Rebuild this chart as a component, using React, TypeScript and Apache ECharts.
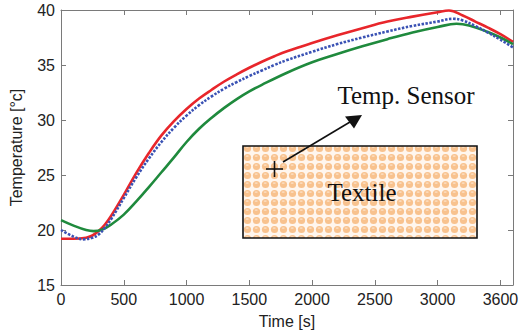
import React, { useEffect, useRef } from "react";
import * as echarts from "echarts";

const xTicks = [0, 500, 1000, 1500, 2000, 2500, 3000, 3500];
const xTickLabels = ["0", "500", "1000", "1500", "2000", "2500", "3000", "3600"];
const yTickLabels = [15, 20, 25, 30, 35, 40];

const redTime = [0, 100, 200, 250, 300, 350, 400, 500, 600, 700, 800, 900, 1000, 1100, 1200, 1300, 1400, 1500, 1600, 1700, 1800, 2000, 2200, 2400, 2600, 2800, 3000, 3090, 3200, 3300, 3400, 3500, 3600];
const redTemp = [19.2, 19.2, 19.3, 19.5, 19.9, 20.5, 21.3, 23.2, 25.2, 27.0, 28.6, 29.9, 31.0, 31.95, 32.75, 33.5, 34.15, 34.75, 35.3, 35.8, 36.25, 37.0, 37.7, 38.35, 38.95, 39.4, 39.8, 39.95, 39.5, 38.95, 38.4, 37.8, 37.1];

const blueTime = [0, 100, 175, 250, 300, 350, 400, 500, 600, 700, 800, 900, 1000, 1100, 1200, 1300, 1400, 1500, 1600, 1700, 1800, 2000, 2200, 2400, 2600, 2800, 3000, 3120, 3200, 3300, 3400, 3500, 3600];
const blueTemp = [20.0, 19.4, 19.15, 19.3, 19.6, 20.2, 21.0, 22.9, 24.8, 26.5, 28.0, 29.3, 30.4, 31.35, 32.15, 32.85, 33.45, 34.0, 34.5, 35.0, 35.45, 36.2, 36.9, 37.5, 38.05, 38.55, 38.95, 39.2, 39.05, 38.55, 37.95, 37.3, 36.6];

const greenTime = [0, 100, 200, 260, 330, 400, 500, 600, 700, 800, 900, 1000, 1100, 1200, 1300, 1400, 1500, 1600, 1800, 2000, 2200, 2400, 2600, 2800, 3000, 3150, 3250, 3400, 3500, 3600];
const greenTemp = [20.9, 20.4, 20.0, 19.9, 20.05, 20.5, 21.4, 22.6, 23.9, 25.25, 26.6, 28.0, 29.2, 30.2, 31.1, 31.9, 32.6, 33.2, 34.3, 35.25, 36.0, 36.7, 37.35, 37.95, 38.45, 38.75, 38.6, 38.0, 37.5, 36.9];

const toPairs = (t: number[], v: number[]) => t.map((x, i) => [x, v[i]]);

const patternSvg =
  '<svg xmlns="http://www.w3.org/2000/svg" width="9" height="9">' +
  '<rect width="9" height="9" fill="#fff6ee"/>' +
  '<circle cx="4.5" cy="4.5" r="3.6" fill="#f8c28e"/>' +
  '<ellipse cx="4.2" cy="3.1" rx="1.6" ry="0.9" fill="#fcdcbe"/>' +
  "</svg>";
const patternUrl = "data:image/svg+xml;charset=utf-8," + encodeURIComponent(patternSvg);

export default function App() {
  const ref = useRef<HTMLDivElement>(null);
  useEffect(() => {
    if (!ref.current) return;
    const chart = echarts.init(ref.current, undefined, { renderer: "svg" });
    const axisColor = "#7a7a7a";
    const labelFont = { fontFamily: "Liberation Sans, Arial, sans-serif", fontSize: 16, color: "#222" };
    const serif = "Liberation Serif, Times New Roman, serif";
    chart.setOption({
      animation: false,
      backgroundColor: "#ffffff",
      grid: { left: 58, right: 14, top: 10, bottom: 51, containLabel: false },
      xAxis: [
        {
          type: "value",
          min: 0,
          max: 3600,
          interval: 500,
          name: "Time [s]",
          nameLocation: "middle",
          nameGap: 28,
          nameTextStyle: { ...labelFont },
          axisLine: { show: true, lineStyle: { color: axisColor, width: 1 } },
          axisTick: { show: true, inside: true, length: 5, lineStyle: { color: axisColor } },
          axisLabel: {
            ...labelFont,
            margin: 6,
            formatter: (v: number) => {
              const i = xTicks.indexOf(v);
              return i >= 0 ? xTickLabels[i] : "";
            },
          },
          splitLine: { show: false },
        },
        {
          type: "value",
          position: "top",
          min: 0,
          max: 3600,
          interval: 500,
          axisLine: { show: true, onZero: false, lineStyle: { color: axisColor, width: 1 } },
          axisTick: { show: true, inside: true, length: 5, lineStyle: { color: axisColor } },
          axisLabel: { show: false },
          splitLine: { show: false },
        },
      ],
      yAxis: [
        {
          type: "value",
          min: 15,
          max: 40,
          interval: 5,
          name: "Temperature [°c]",
          nameLocation: "middle",
          nameGap: 31,
          nameTextStyle: { ...labelFont, padding: [0, 0, 6, 0] },
          axisLine: { show: true, lineStyle: { color: axisColor, width: 1 } },
          axisTick: { show: true, inside: true, length: 5, lineStyle: { color: axisColor } },
          axisLabel: {
            ...labelFont,
            margin: 6,
            formatter: (v: number) => (yTickLabels.indexOf(v) >= 0 ? String(v) : ""),
          },
          splitLine: { show: false },
        },
        {
          type: "value",
          position: "right",
          min: 15,
          max: 40,
          interval: 5,
          axisLine: { show: true, onZero: false, lineStyle: { color: axisColor, width: 1 } },
          axisTick: { show: true, inside: true, length: 5, lineStyle: { color: axisColor } },
          axisLabel: { show: false },
          splitLine: { show: false },
        },
      ],
      series: [
        {
          type: "line",
          name: "green",
          data: toPairs(greenTime, greenTemp),
          smooth: 0.4,
          showSymbol: false,
          symbol: "none",
          lineStyle: { color: "#1f8a3d", width: 2.6 },
          z: 3,
        },
        {
          type: "line",
          name: "blue",
          data: toPairs(blueTime, blueTemp),
          smooth: 0.4,
          showSymbol: false,
          symbol: "none",
          lineStyle: { color: "#3a52b4", width: 2.6, type: [2.5, 1.5] },
          z: 4,
        },
        {
          type: "line",
          name: "red",
          data: toPairs(redTime, redTemp),
          smooth: 0.4,
          showSymbol: false,
          symbol: "none",
          lineStyle: { color: "#e8262b", width: 2.6 },
          z: 2,
        },
      ],
      graphic: [
        {
          type: "rect",
          shape: { x: 243, y: 146, width: 234, height: 92 },
          style: {
            fill: { image: patternUrl, repeat: "repeat", imageWidth: 9, imageHeight: 9 } as any,
            stroke: "#111",
            lineWidth: 1.6,
          },
          z: 10,
        },
        {
          type: "line",
          shape: { x1: 266, y1: 169, x2: 283, y2: 169 },
          style: { stroke: "#111", lineWidth: 1.6 },
          z: 11,
        },
        {
          type: "line",
          shape: { x1: 274.5, y1: 161, x2: 274.5, y2: 177 },
          style: { stroke: "#111", lineWidth: 1.6 },
          z: 11,
        },
        {
          type: "line",
          shape: { x1: 283, y1: 162, x2: 350, y2: 122 },
          style: { stroke: "#111", lineWidth: 1.6 },
          z: 11,
        },
        {
          type: "polygon",
          shape: { points: [[362, 115], [345, 116.5], [354, 128.5]] },
          style: { fill: "#111" },
          z: 11,
        },
        {
          type: "text",
          x: 362,
          y: 192,
          style: {
            text: "Textile",
            font: "25px " + serif,
            fill: "#111",
            align: "center",
            verticalAlign: "middle",
          },
          z: 12,
        },
        {
          type: "text",
          x: 406,
          y: 95,
          style: {
            text: "Temp. Sensor",
            font: "25px " + serif,
            fill: "#111",
            align: "center",
            verticalAlign: "middle",
          },
          z: 12,
        },
      ],
    });
    return () => chart.dispose();
  }, []);
  return (
    <div
      ref={ref}
      style={{ position: "fixed", left: 0, top: 0, width: 527, height: 336, background: "#fff" }}
    />
  );
}
